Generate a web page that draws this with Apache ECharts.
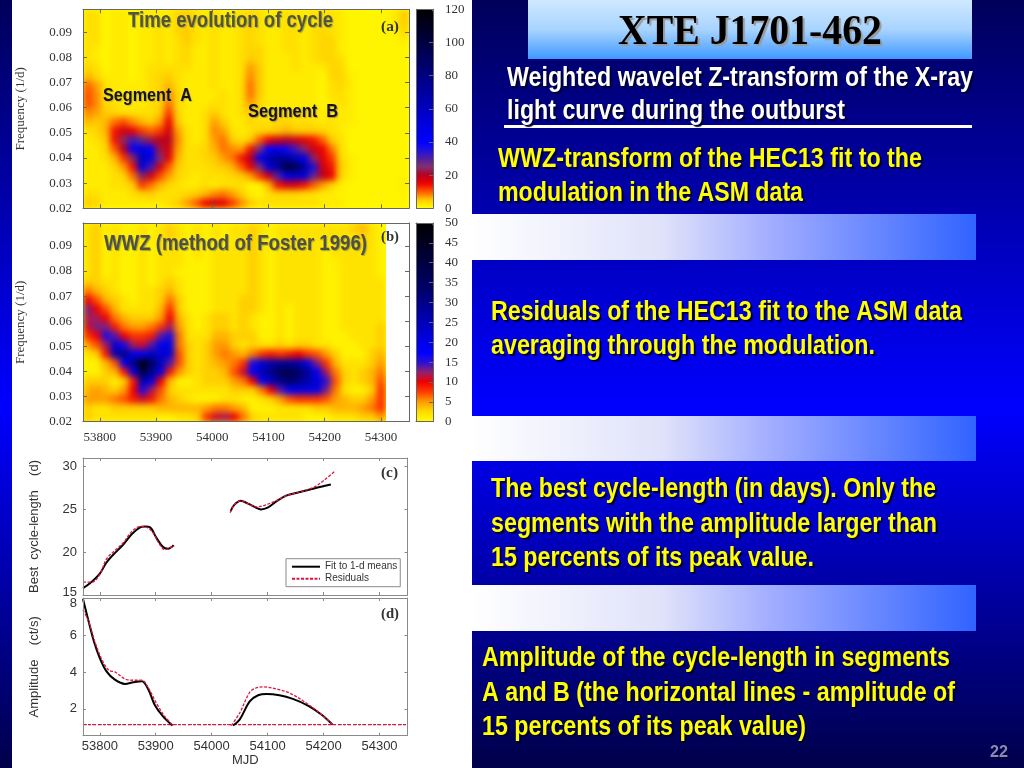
<!DOCTYPE html>
<html><head><meta charset="utf-8">
<style>
html,body{margin:0;padding:0;background:#fff;overflow:hidden}
.layer{position:absolute;left:0;top:0;width:1024px;height:768px}
#base{z-index:0}#fg{z-index:3}
.clip{position:absolute;overflow:hidden;z-index:1}
.soft{position:absolute;left:-12px;top:-12px;filter:blur(3.2px)}
#clipA{left:83px;top:9px;width:326px;height:199px}
#softA{width:350px;height:223px}
#clipB{left:83px;top:223px;width:303px;height:199px}
#softB{width:327px;height:223px}
</style>
<script src="https://cdn.jsdelivr.net/npm/echarts@6/dist/echarts.min.js"></script>
</head><body>
<div id="base" class="layer"></div>
<div id="clipA" class="clip"><div id="softA" class="soft"></div></div>
<div id="clipB" class="clip"><div id="softB" class="soft"></div></div>
<div id="fg" class="layer"></div>
<script>
const heatARows = [
[3,3,1,2,2,1,2,2,2,2,4,5,3,2,3,2,2,3,4,3,2,2,3,3,2,3,3,3,2,1,1,1,1,1,2,5],
[3,3,1,2,2,1,2,2,2,2,4,5,3,2,3,2,2,3,4,3,2,2,3,3,2,3,3,3,2,1,1,1,1,1,2,5],
[3,3,1,2,2,1,2,2,3,2,4,5,3,2,3,2,2,3,4,3,2,2,3,3,2,3,4,3,2,1,1,1,1,1,1,4],
[3,3,1,2,2,1,2,2,3,2,3,5,3,2,3,2,2,3,4,3,2,2,3,3,2,3,4,4,2,1,1,1,1,1,1,2],
[3,2,1,2,2,1,2,2,3,2,3,4,2,2,3,2,2,3,4,4,2,2,3,3,2,3,4,4,2,1,1,1,1,1,1,1],
[3,2,1,2,2,1,2,2,3,2,3,4,2,2,3,2,2,3,5,4,2,2,2,3,2,3,4,4,3,1,1,1,1,1,1,1],
[4,3,1,2,2,1,2,3,3,3,3,3,2,2,3,2,2,3,7,5,2,2,2,3,2,2,2,4,4,1,1,1,1,1,1,1],
[6,4,2,2,2,1,2,3,4,5,3,2,2,2,3,2,2,3,8,5,2,2,2,2,2,2,1,4,4,2,1,1,1,1,1,1],
[10,7,3,2,2,2,2,3,4,6,3,2,2,2,3,2,2,3,9,5,2,2,2,2,2,2,1,3,4,2,1,1,1,1,1,1],
[11,8,3,2,2,2,2,3,4,8,4,2,2,2,2,3,2,3,9,5,2,2,2,2,2,2,1,3,3,2,1,1,1,1,1,1],
[11,8,4,3,2,2,2,3,4,9,4,2,2,2,3,3,2,3,7,4,2,2,2,2,2,2,1,2,3,2,1,1,1,1,1,1],
[8,7,5,4,3,3,3,3,5,12,4,2,2,3,5,3,2,3,5,3,2,3,3,3,3,2,2,2,2,2,1,1,1,1,1,1],
[6,5,6,9,11,8,6,5,7,15,5,2,2,3,7,5,2,2,4,3,3,4,4,3,3,3,2,3,2,2,1,1,1,1,1,1],
[3,4,6,14,18,16,12,10,12,18,7,3,2,3,8,7,3,2,3,4,4,5,6,5,5,5,4,3,2,1,1,1,1,1,1,1],
[2,3,5,14,24,32,28,22,20,20,8,3,2,3,7,9,5,3,5,10,15,18,20,18,16,14,10,5,3,1,1,1,1,1,1,1],
[2,2,4,10,20,42,50,40,22,18,7,3,3,4,6,9,8,7,14,26,40,45,38,32,24,18,15,9,3,1,1,1,1,1,1,1],
[2,2,3,6,12,24,60,50,26,16,6,3,3,4,5,7,9,14,20,44,65,75,70,60,45,24,16,12,4,2,1,1,1,1,1,1],
[2,2,2,4,7,14,52,32,18,10,5,3,3,3,4,5,6,10,16,26,50,70,100,95,70,36,18,14,5,2,1,1,1,1,1,1],
[2,2,2,3,4,9,24,18,11,7,4,3,2,3,3,3,4,5,7,12,18,30,45,55,50,28,20,15,4,2,1,1,1,1,1,1],
[2,2,2,3,3,5,12,9,6,4,3,2,2,3,2,3,3,3,1,1,6,14,17,17,14,10,7,4,2,1,1,1,1,1,1,2],
[3,3,2,2,2,3,4,5,3,3,3,4,5,6,8,9,7,5,2,1,3,4,4,4,3,3,2,2,1,1,1,1,1,1,1,1],
[5,4,2,2,2,2,2,2,2,3,5,7,10,15,18,16,12,8,5,3,3,3,3,3,3,3,2,2,2,1,1,1,1,1,1,1]
];
const heatBRows = [
[2,3,1,2,1,1,2,1,2,3,2,1,2,1,2,1,2,2,3,2,1,2,2,2,2,2,2,2,2,3,4,2,1],
[2,3,1,2,1,1,2,1,2,3,2,1,2,1,2,1,2,2,3,2,1,2,2,2,2,2,2,2,2,2,3,2,1],
[2,3,1,2,1,1,2,1,2,2,2,1,2,1,2,1,2,2,3,2,1,2,2,2,2,2,1,2,2,2,3,2,1],
[2,3,1,2,1,1,2,1,2,2,2,1,2,1,2,2,2,2,3,2,1,2,2,2,2,2,1,2,2,2,2,2,1],
[2,3,1,2,1,1,2,1,2,2,2,1,1,1,2,2,2,2,3,2,1,2,2,2,2,2,1,1,2,2,2,2,1],
[2,3,1,2,1,1,2,1,2,2,1,1,1,1,2,2,2,2,3,2,1,2,2,2,2,2,1,1,2,2,2,2,1],
[3,3,2,2,1,1,2,1,2,3,2,1,1,1,2,2,2,2,3,2,1,2,2,2,2,2,1,1,2,2,2,2,2],
[6,4,3,2,1,1,2,2,3,4,2,1,1,1,2,2,2,2,3,2,1,2,2,2,2,2,1,1,2,2,2,2,2],
[10,7,4,3,2,1,2,2,3,6,3,1,1,1,2,2,2,3,3,2,1,2,2,2,2,2,1,1,2,2,2,2,2],
[13,10,7,4,2,2,2,2,4,8,3,1,1,1,2,2,2,3,3,2,1,2,1,2,2,2,1,1,2,2,2,2,2],
[12,12,10,6,4,3,3,3,5,10,4,2,1,2,3,3,2,3,2,1,1,2,1,2,2,2,1,1,2,2,2,2,2],
[11,13,13,9,6,5,5,6,8,12,5,2,1,2,3,3,2,3,2,1,1,2,1,2,2,2,1,1,2,2,2,2,3],
[8,10,16,14,10,8,8,9,14,16,6,2,2,2,4,4,3,3,3,1,1,2,1,2,2,2,1,1,1,2,2,2,3],
[5,7,12,22,16,12,11,14,20,20,6,3,2,3,5,5,3,2,3,2,2,3,2,3,3,2,2,1,1,1,2,2,3],
[2,3,9,25,30,20,18,24,22,22,7,3,2,3,5,6,5,4,6,8,9,8,9,10,8,7,5,3,1,1,1,3,4],
[1,1,4,7,18,30,48,35,24,14,7,3,2,3,4,5,6,8,16,22,26,28,28,26,20,13,8,4,2,2,2,3,5],
[1,1,3,4,9,20,40,30,20,9,5,3,2,3,3,4,7,11,18,25,30,36,38,34,28,18,12,6,3,2,3,4,6],
[3,3,3,1,3,9,26,20,10,4,1,1,2,3,3,3,5,6,10,18,24,30,34,30,26,22,15,7,3,2,3,4,7],
[4,5,4,3,5,10,16,12,7,3,2,2,2,2,2,2,3,3,3,6,10,14,18,20,20,20,13,6,2,1,1,3,8],
[5,5,5,6,7,9,11,9,6,4,3,2,1,1,1,2,2,1,1,2,3,5,7,8,8,8,7,5,4,3,3,5,8],
[3,2,2,3,3,3,3,3,4,4,4,4,4,5,6,6,5,4,1,1,1,2,2,2,2,3,3,4,4,4,5,6,8],
[3,2,2,2,2,2,2,2,1,1,2,2,3,8,11,12,10,6,3,2,2,2,2,2,1,1,1,2,2,2,3,3,5]
];
const paletteA = ['#ffff00','#ffcc00','#ff5c00','#f00000','#b80020','#803070','#5020a0','#2010e0','#0000ff','#0000f0','#0000e0','#0000d0','#0000c0','#0000b0','#0000a0','#000090','#000080','#000070','#000060','#000050','#000040','#000030','#000020','#000010','#000000'];
const paletteB = ['#ffff00','#ffdc00','#ff9c00','#ff3c00','#f00000','#902070','#2810d8','#0000ff','#0000e8','#0000d0','#0000b8','#0000a0','#000088','#000070','#000060','#000050','#000040','#000030','#000020','#000010','#000000'];

const mjdTicks = [53800,53900,54000,54100,54200,54300];
const freqTicks = [0.02,0.03,0.04,0.05,0.06,0.07,0.08,0.09];
const scaleATicks = [0,20,40,60,80,100,120];
const scaleBTicks = [0,5,10,15,20,25,30,35,40,45,50];
const cycleTicks = [15,20,25,30];
const ampTicks = [2,4,6,8];

const cycleFitA = [[53770,15.8],[53783,16.4],[53800,17.5],[53812,18.8],[53824,19.7],[53842,20.9],[53857,22.1],[53872,22.9],[53881,23.0],[53890,22.9],[53901,21.7],[53913,20.6],[53922,20.4],[53932,20.8]];
const cycleFitB = [[54034,24.8],[54040,25.5],[54052,26.0],[54064,25.7],[54079,25.2],[54088,25.0],[54100,25.2],[54115,25.9],[54133,26.6],[54156,27.0],[54186,27.5],[54213,27.9]];
const cycleResA = [[53770,16.5],[53786,16.5],[53800,17.4],[53812,19.2],[53827,20.2],[53842,21.1],[53857,22.4],[53872,23.0],[53884,22.9],[53896,22.2],[53906,21.0],[53916,20.3],[53925,20.5],[53933,20.8]];
const cycleResB = [[54033,24.6],[54040,25.5],[54052,26.0],[54064,25.7],[54079,25.3],[54091,25.4],[54115,26.0],[54133,26.6],[54156,27.0],[54183,27.6],[54201,28.4],[54219,29.4]];
const ampFitA = [[53770,7.95],[53777,7.1],[53789,5.7],[53800,4.75],[53812,4.03],[53827,3.58],[53845,3.35],[53860,3.44],[53875,3.5],[53887,3.04],[53898,2.23],[53913,1.6],[53930,1.1]];
const ampFitB = [[54038,1.1],[54050,1.42],[54068,2.41],[54083,2.74],[54098,2.81],[54121,2.74],[54145,2.54],[54172,2.18],[54196,1.7],[54216,1.15]];
const ampResA = [[53770,7.36],[53780,6.73],[53792,5.56],[53804,4.66],[53816,4.09],[53827,4.0],[53845,3.62],[53860,3.55],[53875,3.55],[53887,3.13],[53901,2.32],[53916,1.6],[53931,1.1]];
const ampResB = [[54035,1.1],[54050,1.78],[54068,2.9],[54079,3.13],[54091,3.19],[54115,3.08],[54139,2.86],[54169,2.32],[54196,1.7],[54216,1.15]];
const threshold = [[53770,1.15],[54350,1.15]];

const SERIF='"Liberation Serif"', SANS='"Liberation Sans"';
const FIT='Fit to 1-d means', RES='Residuals';
const MJD_MIN=53770, MJD_MAX=54350, F_MIN=0.02, F_MAX=0.0991;
const range=n=>Array.from({length:n},(_,i)=>i);
const gap=[54000,null];

function heatChart(id,rows,palette,max){
 const cols=rows[0].length,data=[];
 rows.forEach((r,j)=>r.forEach((v,i)=>data.push([i,j,v])));
 const el=document.getElementById(id);
 const c=echarts.init(el,null,{renderer:'canvas'});
 c.setOption({animation:false,backgroundColor:'#ffff00',
  grid:{left:12,right:12,top:12,bottom:12},
  xAxis:{type:'category',show:false,data:range(cols)},
  yAxis:{type:'category',show:false,inverse:true,data:range(rows.length)},
  visualMap:{show:false,min:0,max,dimension:2,inRange:{color:palette}},
  series:[{type:'heatmap',data,silent:true}]});
}
heatChart('softA',heatARows,paletteA,120);
heatChart('softB',heatBRows,paletteB,50);

const grids=[
 {left:83,top:9.3,width:326,height:199},
 {left:416.5,top:9.3,width:16.5,height:199},
 {left:83,top:223,width:326,height:198.7},
 {left:416,top:223,width:17,height:198.7},
 {left:83,top:458,width:324.5,height:137},
 {left:83,top:598,width:324.5,height:137.7}
];
const xAxes=[],yAxes=[];
function val(list,o){
 const col=o.color||'#666';
 const a={type:'value',gridIndex:o.g,min:o.min,max:o.max,position:o.pos,z:10,
  axisLine:{show:true,onZero:false,lineStyle:{color:col,width:1}},
  axisTick:{show:!!o.vals,inside:true,length:o.len||4,customValues:o.vals,lineStyle:{color:col,width:1}},
  axisLabel:{show:!!o.labels,customValues:o.vals,margin:o.margin||8,color:'#333',fontFamily:o.font||SERIF,fontSize:13,
    formatter:o.fmt||(v=>String(v)),rich:o.rich},
  splitLine:{show:false}};
 if(o.name){a.name=o.name;a.nameLocation='middle';a.nameGap=o.nameGap;a.nameRotate=o.nameRotate;
   a.nameTextStyle={color:'#333',fontFamily:o.font||SERIF,fontSize:13};}
 list.push(a);return list.length-1;
}
const f2=v=>v.toFixed(2);
const frame=(g,labelsX,nm)=>{
 val(xAxes,{g,min:MJD_MIN,max:MJD_MAX,pos:'bottom',vals:mjdTicks,labels:labelsX,margin:9});
 val(xAxes,{g,min:MJD_MIN,max:MJD_MAX,pos:'top',vals:mjdTicks});
 val(yAxes,{g,min:F_MIN,max:F_MAX,pos:'left',vals:freqTicks,labels:true,margin:11,fmt:f2,name:nm,nameGap:56,nameRotate:90});
 val(yAxes,{g,min:F_MIN,max:F_MAX,pos:'right',vals:freqTicks});
};
const bar=(g,max,ticks)=>{
 val(xAxes,{g,min:0,max:1,pos:'bottom'});val(xAxes,{g,min:0,max:1,pos:'top'});
 val(yAxes,{g,min:0,max:max,pos:'right',vals:ticks,labels:true,margin:12});
 val(yAxes,{g,min:0,max:max,pos:'left'});
};
frame(0,false,'Frequency (1/d)');
bar(1,120,scaleATicks);
frame(2,true,'Frequency (1/d)');
bar(3,50,scaleBTicks);
const GR='#8a8a8a';
const shift={fontFamily:SANS,fontSize:13,color:'#333'};
const cx=val(xAxes,{g:4,min:MJD_MIN,max:MJD_MAX,pos:'bottom',vals:mjdTicks,color:GR,len:3});
val(xAxes,{g:4,min:MJD_MIN,max:MJD_MAX,pos:'top',vals:mjdTicks,color:GR,len:3});
const cy=val(yAxes,{g:4,min:15,max:31,pos:'left',vals:cycleTicks,labels:true,font:SANS,margin:6,color:GR,len:3,
  fmt:v=>v===15?'{up|15}':String(v),rich:{up:{...shift,padding:[0,0,6,0]}},
  name:'Best  cycle-length    (d)',nameGap:42,nameRotate:90});
val(yAxes,{g:4,min:15,max:31,pos:'right',vals:cycleTicks,color:GR,len:3});
const dx=val(xAxes,{g:5,min:MJD_MIN,max:MJD_MAX,pos:'bottom',vals:mjdTicks,labels:true,font:SANS,margin:4,color:GR,len:3,name:'MJD',nameGap:18});
val(xAxes,{g:5,min:MJD_MIN,max:MJD_MAX,pos:'top',vals:mjdTicks,color:GR,len:3});
const dy=val(yAxes,{g:5,min:0.55,max:8,pos:'left',vals:ampTicks,labels:true,font:SANS,margin:6,color:GR,len:3,
  fmt:v=>v===8?'{dn|8}':String(v),rich:{dn:{...shift,padding:[10,0,0,0]}},
  name:'Amplitude    (ct/s)',nameGap:42,nameRotate:90});
val(yAxes,{g:5,min:0.55,max:8,pos:'right',vals:ampTicks,color:GR,len:3});

function line(name,x,y,a,b,kind){
 const st=kind==='fit'?{color:'#000',width:2}:{color:'#e0143c',width:1.3,type:[3,1.5]};
 return {type:'line',name,xAxisIndex:x,yAxisIndex:y,data:[...a,gap,...b],smooth:0.35,symbol:'none',showSymbol:false,
   lineStyle:st,itemStyle:{color:st.color},z:kind==='fit'?5:6,silent:true,connectNulls:false};
}
const series=[
 line(FIT,cx,cy,cycleFitA,cycleFitB,'fit'),
 line(RES,cx,cy,cycleResA,cycleResB,'res'),
 line(FIT,dx,dy,ampFitA,ampFitB,'fit'),
 line(RES,dx,dy,ampResA,ampResB,'res'),
 {type:'line',name:'threshold fit',xAxisIndex:dx,yAxisIndex:dy,data:threshold,symbol:'none',silent:true,lineStyle:{color:'#555',width:1,type:[1,2]},z:4},
 {type:'line',name:'threshold residuals',xAxisIndex:dx,yAxisIndex:dy,data:threshold,symbol:'none',silent:true,lineStyle:{color:'#e0143c',width:1.2,type:[3,2]},z:4}
];

const meas=document.createElement('canvas').getContext('2d');
function T(text,x,yc,w,font,fill,shadow,sc,off){
 meas.font=font;
 const mw=meas.measureText(text).width;
 return {type:'text',z:100,x,y:yc,scaleX:w/mw,silent:true,
  style:{text,x:0,y:0,font,fill,align:'left',verticalAlign:'middle',
   textShadowColor:shadow,textShadowBlur:sc===undefined?1:sc,textShadowOffsetX:off===undefined?2:off,textShadowOffsetY:off===undefined?2:off}};
}
const B25='bold 27px '+SANS, Y='#ffff00', W='#ffffff', SH='#000030';
const band=(y,h)=>({type:'rect',shape:{x:472,y,width:504,height:h},silent:true,
  style:{fill:new echarts.graphic.LinearGradient(0,0,1,0,[{offset:0,color:'#ffffff'},{offset:.38,color:'#dfe2fa'},{offset:.6,color:'#a0acff'},{offset:1,color:'#3063ff'}])}});
const backdrop=[
 {type:'rect',shape:{x:0,y:0,width:1024,height:768},silent:true,
  style:{fill:new echarts.graphic.LinearGradient(0,0,0,1,[{offset:0,color:'#00005a'},{offset:.53,color:'#0000ff'},{offset:1,color:'#00004a'}])}},
 {type:'rect',shape:{x:12,y:0,width:460,height:768},silent:true,style:{fill:'#ffffff'}},
 {type:'rect',shape:{x:528,y:0,width:444,height:59},silent:true,
  style:{fill:new echarts.graphic.LinearGradient(0,0,0,1,[{offset:0,color:'#cfe8ff'},{offset:.5,color:'#a8d4ff'},{offset:1,color:'#3f98ff'}])}},
 band(214,46),band(416,45),band(585,46)
];
const graphics=[
 {type:'rect',z:99,shape:{x:504,y:125,width:468,height:3},silent:true,style:{fill:'#ffffff'}},
 T('XTE J1701-462',618,33,264,'bold 42px '+SERIF,'#000000','#9a9a9a',1,2),
 T('Weighted wavelet Z-transform of the X-ray',507,79,466,B25,W,SH),
 T('light curve during the outburst',507,112,338,B25,W,SH),
 T('WWZ-transform of the HEC13 fit to the',498,160,424,B25,Y,SH),
 T('modulation in the ASM data',498,194,305,B25,Y,SH),
 T('Residuals of the HEC13 fit to the ASM data',491,313,471,B25,Y,SH),
 T('averaging through the modulation.',491,347,384,B25,Y,SH),
 T('The best cycle-length (in days). Only the',491,490,445,B25,Y,SH),
 T('segments with the amplitude larger than',491,525,446,B25,Y,SH),
 T('15 percents of its peak value.',491,559,323,B25,Y,SH),
 T('Amplitude of the cycle-length in segments',482,659,468,B25,Y,SH),
 T('A and B (the horizontal lines - amplitude of',482,694,473,B25,Y,SH),
 T('15 percents of its peak value)',482,728,324,B25,Y,SH),
 T('22',990,752,18,'bold 17px '+SANS,'#8a8ab8','#000030',1,1),
 T('Time evolution of cycle',128,21,205,'bold 22px '+SANS,'#55553a','#a8a840',1,1),
 T('Segment  A',103,96,89,'bold 18px '+SANS,'#141414','#c8b040',1,1),
 T('Segment  B',248,112,90,'bold 18px '+SANS,'#141414','#b09050',1,1),
 T('WWZ (method of Foster 1996)',104,244,263,'bold 22px '+SANS,'#505040','#a0a040',1,1),
 T('(a)',381,27,18,'bold 14px '+SERIF,'#333','#ffff00',0,0),
 T('(b)',381,237,18,'bold 14px '+SERIF,'#333','#ffffff',0,0),
 T('(c)',381,473,17,'bold 14px '+SERIF,'#333','#ffffff',0,0),
 T('(d)',381,614,18,'bold 14px '+SERIF,'#333','#ffffff',0,0)
];

echarts.init(document.getElementById('base')).setOption({animation:false,graphic:{elements:backdrop}});
const chart=echarts.init(document.getElementById('fg'),null,{renderer:'canvas'});
chart.setOption({
 animation:false,
 grid:grids,xAxis:xAxes,yAxis:yAxes,series,
 visualMap:[
  {type:'continuous',seriesIndex:99,min:0,max:120,left:416.5,top:9.3,itemWidth:16.5,itemHeight:199,padding:0,text:['',''],textGap:0,calculable:false,hoverLink:false,inRange:{color:paletteA}},
  {type:'continuous',seriesIndex:99,min:0,max:50,left:416,top:223,itemWidth:17,itemHeight:198.7,padding:0,text:['',''],textGap:0,calculable:false,hoverLink:false,inRange:{color:paletteB}}
 ],
 legend:{data:[FIT,RES],orient:'vertical',left:286,top:558.7,padding:[3,3,3,5],itemWidth:28,itemHeight:10,itemGap:2,
  borderColor:'#8a8a8a',borderWidth:1,backgroundColor:'#ffffff',z:20,selectedMode:false,
  itemStyle:{opacity:0,color:'transparent',borderColor:'transparent'},
  textStyle:{fontFamily:SANS,fontSize:10,color:'#333'}},
 graphic:{elements:graphics}
});
</script>
</body></html>
